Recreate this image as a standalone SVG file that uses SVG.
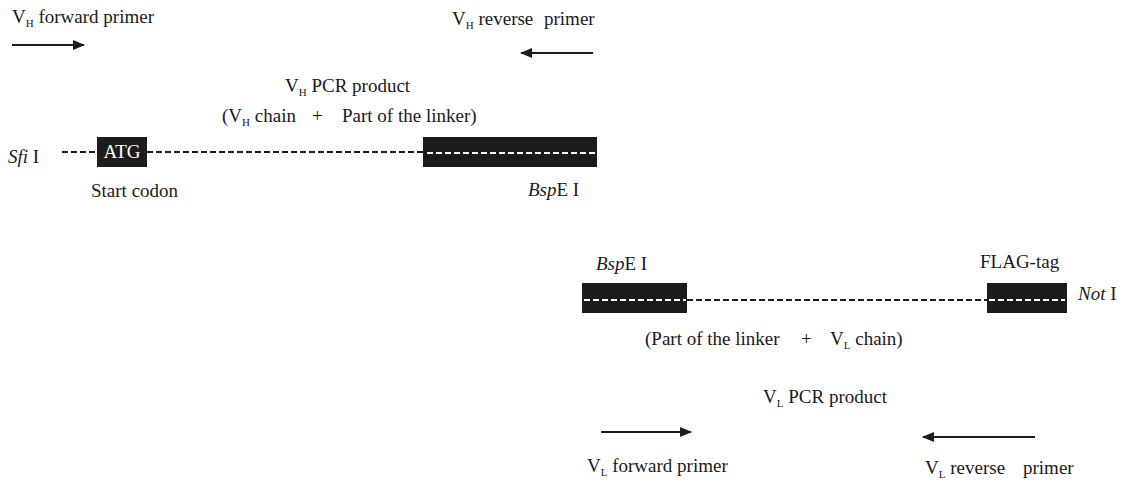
<svg xmlns="http://www.w3.org/2000/svg" width="1123" height="483" viewBox="0 0 1123 483">
  <style>
    text { font-family: "Liberation Serif", "Times New Roman", serif; font-size: 19px; fill: #1a1a1a; }
    .sub { font-size: 11px; }
    .it { font-style: italic; }
    .white { fill: #ffffff; }
    .block { fill: #1c1c1c; }
    .dna { stroke: #1c1c1c; stroke-width: 2; stroke-dasharray: 6 3; fill: none; }
    .dna-in { stroke: #ffffff; stroke-width: 2; stroke-dasharray: 6 3; fill: none; }
    .primer { stroke: #1c1c1c; stroke-width: 2.2; fill: none; }
  </style>
  <defs>
    <marker id="arrow" viewBox="0 0 12 10" refX="11" refY="5" markerWidth="12" markerHeight="10" markerUnits="userSpaceOnUse" orient="auto">
      <path d="M0,0 L12,5 L0,10 Z" fill="#1c1c1c"/>
    </marker>
  </defs>

  <!-- VH primers -->
  <g id="vh-forward-primer">
    <text x="12" y="23">V<tspan class="sub" dy="4">H</tspan><tspan dy="-4"> forward primer</tspan></text>
  </g>
  <g id="vh-reverse-primer">
    <text x="452" y="25">V<tspan class="sub" dy="4">H</tspan><tspan dy="-4"> reverse</tspan><tspan x="544">primer</tspan></text>
  </g>

  <!-- VH PCR product -->
  <g id="vh-product-label">
    <text x="285" y="92">V<tspan class="sub" dy="4">H</tspan><tspan dy="-4"> PCR product</tspan></text>
    <text x="222" y="122">(V<tspan class="sub" dy="4">H</tspan><tspan dy="-4"> chain</tspan><tspan x="312">+</tspan><tspan x="342">Part of the linker)</tspan></text>
  </g>

  <g id="sfi-site">
    <text x="8" y="163"><tspan class="it">Sfi</tspan> I</text>
  </g>
  <g id="atg">
    <rect class="block" x="97" y="137" width="50" height="30"/>
    <text class="white" x="122" y="158" text-anchor="middle">ATG</text>
    <text x="91" y="197">Start codon</text>
  </g>
  <g id="vh-linker-block">
    <rect class="block" x="423" y="137" width="174" height="30"/>
    <line class="dna-in" x1="427" y1="153" x2="595" y2="153"/>
    <text x="528" y="196"><tspan class="it">Bsp</tspan>E I</text>
  </g>

  <!-- VL PCR product -->
  <g id="vl-linker-block">
    <text x="596" y="270"><tspan class="it">Bsp</tspan>E I</text>
    <rect class="block" x="582" y="283" width="105" height="30"/>
    <line class="dna-in" x1="584" y1="300" x2="686" y2="300"/>
  </g>
  <g id="flag-tag">
    <text x="980" y="268">FLAG-tag</text>
    <rect class="block" x="987" y="283" width="80" height="30"/>
    <line class="dna-in" x1="989" y1="300" x2="1065" y2="300"/>
  </g>
  <g id="not-site">
    <text x="1078" y="300"><tspan class="it">Not</tspan> I</text>
  </g>
  <g id="vl-product-label">
    <text x="645" y="345">(Part of the linker<tspan x="801">+</tspan><tspan x="830">V</tspan><tspan class="sub" dy="4">L</tspan><tspan dy="-4"> chain)</tspan></text>
    <text x="763" y="403">V<tspan class="sub" dy="4">L</tspan><tspan dy="-4"> PCR product</tspan></text>
  </g>

  <!-- VL primers -->
  <g id="vl-forward-primer">
    <text x="587" y="472">V<tspan class="sub" dy="4">L</tspan><tspan dy="-4"> forward primer</tspan></text>
  </g>
  <g id="vl-reverse-primer">
    <text x="925" y="474">V<tspan class="sub" dy="4">L</tspan><tspan dy="-4"> reverse</tspan><tspan x="1023">primer</tspan></text>
  </g>

  <!-- DNA strands and primer arrows -->
  <g id="connectors">
    <line class="dna" x1="62" y1="152" x2="97" y2="152"/>
    <line class="dna" x1="147" y1="152" x2="423" y2="152"/>
    <line class="dna" x1="687" y1="300" x2="987" y2="300"/>
    <line class="primer" x1="12" y1="45" x2="84" y2="45" marker-end="url(#arrow)"/>
    <line class="primer" x1="593" y1="53" x2="521" y2="53" marker-end="url(#arrow)"/>
    <line class="primer" x1="601" y1="432" x2="691" y2="432" marker-end="url(#arrow)"/>
    <line class="primer" x1="1035" y1="437" x2="923" y2="437" marker-end="url(#arrow)"/>
  </g>
</svg>
